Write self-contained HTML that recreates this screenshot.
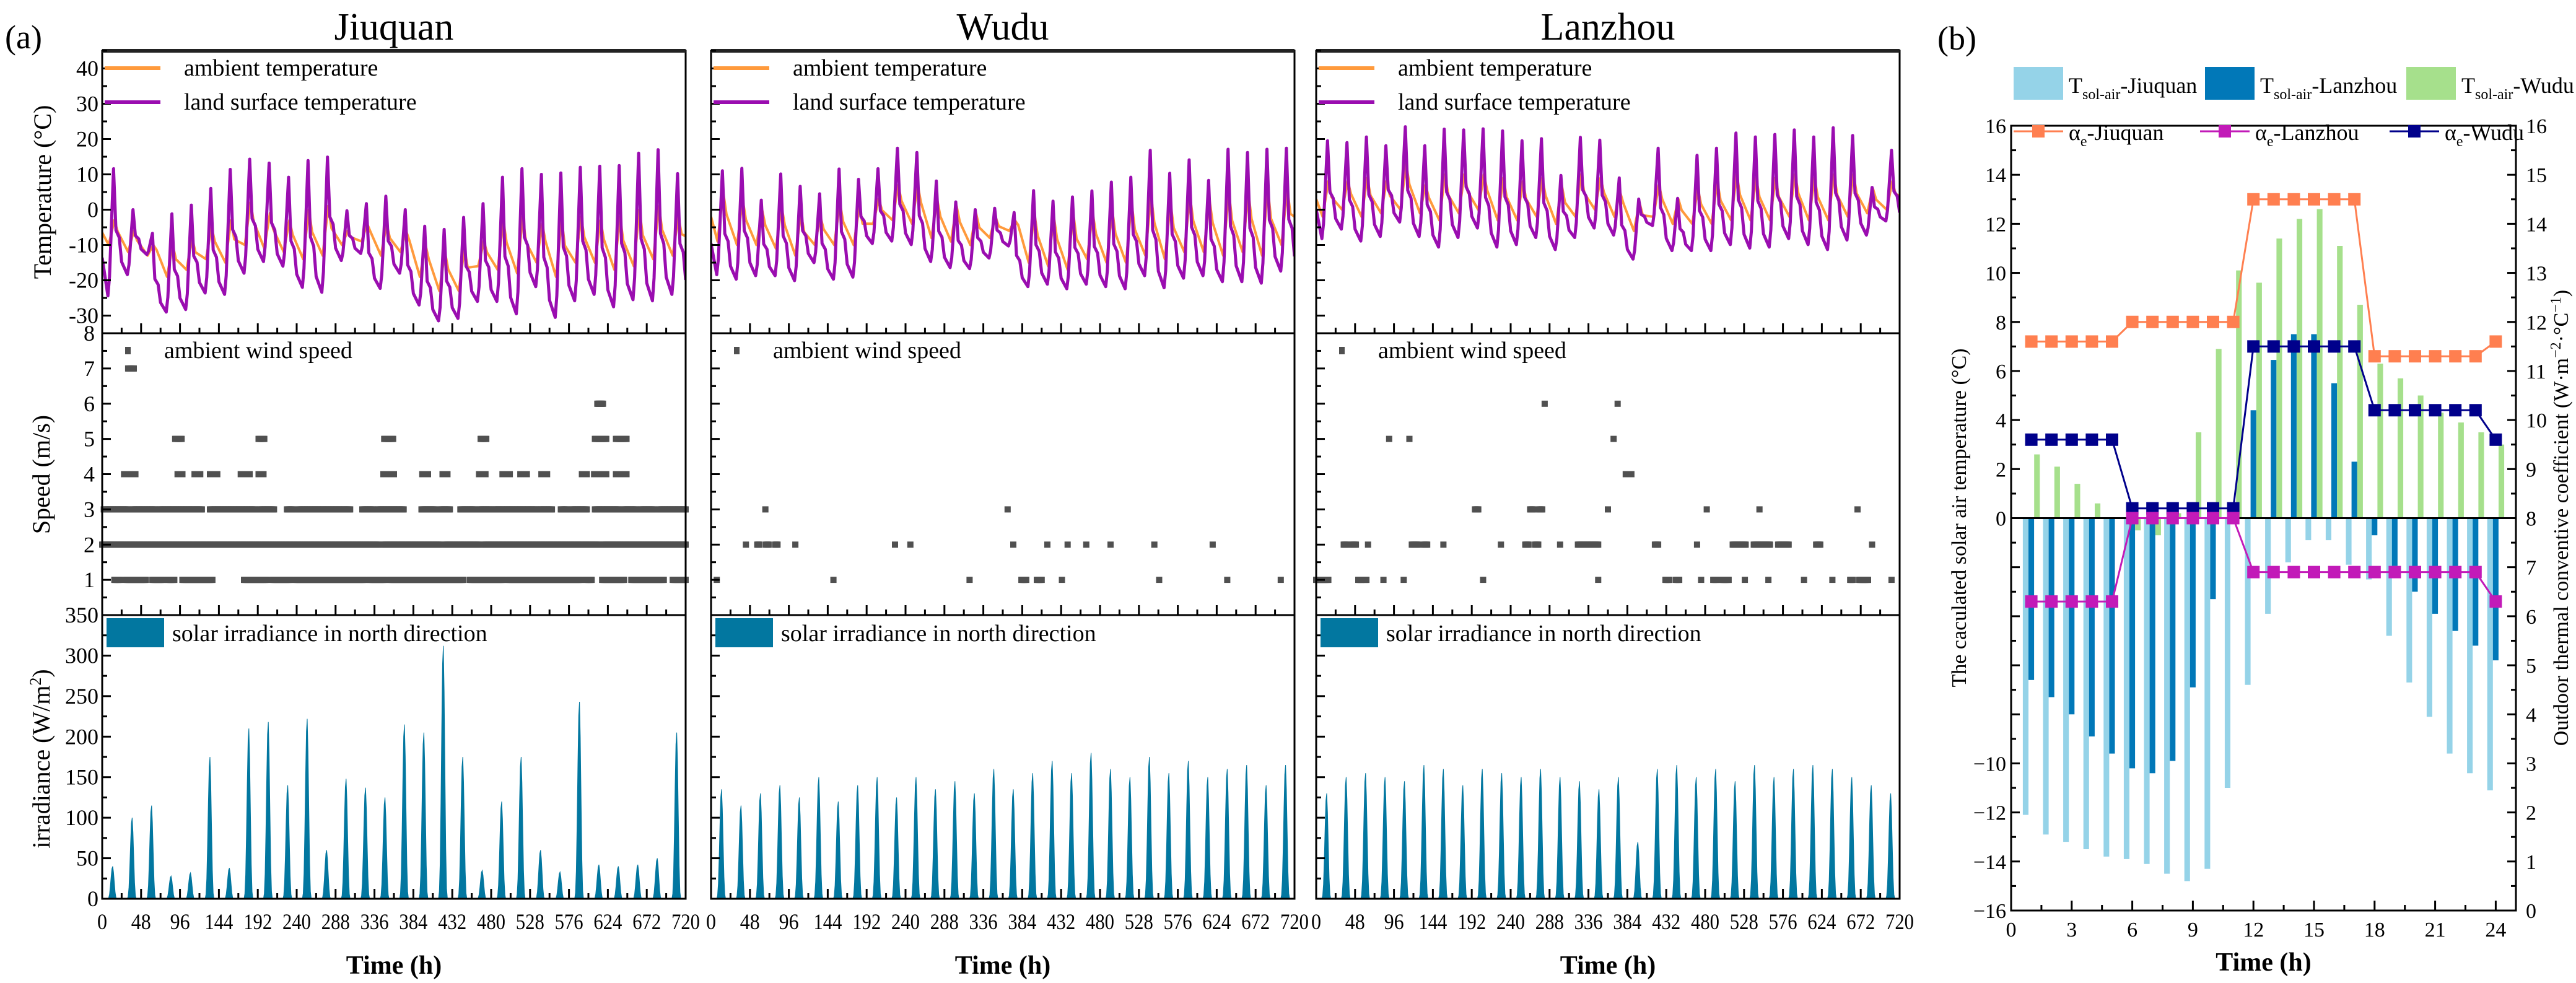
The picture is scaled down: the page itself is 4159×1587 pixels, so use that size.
<!DOCTYPE html>
<html><head><meta charset="utf-8"><style>
html,body{margin:0;padding:0;background:#fff}
svg{display:block;font-family:"Liberation Serif",serif}
</style></head><body>
<svg id="fig" width="4159" height="1587" viewBox="0 0 4159 1587" xmlns="http://www.w3.org/2000/svg">
<rect x="0" y="0" width="4159" height="1587" fill="#fff"/>
<text x="8" y="78" font-size="54">(a)</text>
<text x="3128" y="80" font-size="54">(b)</text>
<g id="ga"></g>
<g id="gb"></g>
</svg>
<script>
// ===== Panel (a) data =====
const cities = ["Jiuquan","Wudu","Lanzhou"];
const xTicksA = [0,48,96,144,192,240,288,336,384,432,480,528,576,624,672,720];
const tempTicks = [-30,-20,-10,0,10,20,30,40];
const speedTicks = [1,2,3,4,5,6,7,8];
const irrTicks = [0,50,100,150,200,250,300,350];
const lstPeakJ = [11.6,0,-6.7,-1.2,1.3,6,11.4,14.3,13.2,9.2,13.9,14.9,-0.3,1.7,3.8,0,-4.7,-5.6,-2.2,1.7,9.2,11.6,10,10.4,12,12.3,12.5,16,17,10.2];
const lstTroughJ = [-24.4,-18.4,-12.7,-29,-28.3,-23.6,-24,-18,-14.7,-16,-22,-23.4,-14.4,-12.4,-22.3,-18,-27,-31.5,-30.8,-26,-26,-29.5,-21.8,-30.5,-25.8,-24,-27.5,-25.5,-25.8,-24];
const ambPeakJ = [-3,-6,-10,-10,-8,-5,-3,2,-1,-3,0,1,-6,-4,-4,-6,-10,-12,-11,-9,-3,-2,-4,-3,-2,-3,-2,0,1,-2];
const ambTroughJ = [-10,-12,-13,-19,-17,-14,-15,-10,-11,-12,-14,-13,-10,-9,-13,-12,-19,-23,-23,-16,-17,-18,-15,-19,-15,-15,-17,-16,-14,-13];
const lstPeakW = [11,11.7,2.7,10.1,6.6,4.5,11.5,8.6,11.6,17.4,16.2,8.1,2.2,0,0.4,-0.8,5.4,2.4,3.6,5.3,7.8,9.2,16.8,10.3,14.1,8.3,17.1,16.2,17.1,17.4];
const lstTroughW = [-18.4,-19.7,-18.7,-18.7,-20.1,-15,-19.7,-19.1,-9.6,-8.9,-9.9,-14.7,-16.4,-16.7,-13.7,-10.3,-21.8,-21.1,-22.4,-21.1,-21.8,-22.4,-18.7,-22.1,-19.4,-18.7,-20.4,-20.4,-20.8,-17.4];
const ambPeakW = [5,3,0,1,-1,-2,2,1,3,7,7,3,1,-1,-2,-3,-1,-2,-1,-1,0,2,4,2,4,3,5,5,6,6];
const ambTroughW = [-9,-10,-10,-11,-13,-10,-10,-10,-4,-3,-4,-8,-9,-10,-8,-6,-15,-16,-17,-14,-15,-15,-13,-14,-12,-12,-13,-12,-13,-10];
const lstPeakL = [19.5,19,20.6,18.1,23.5,18.1,22.8,22.6,22.9,22.3,19.5,20.1,9.7,20.5,19.7,9,3,17.4,3.2,15.4,17.4,21.7,20.6,21.3,22.6,20.6,23.2,21,6.3,16.8];
const lstTroughL = [-8.2,-5.5,-8.9,-7.6,-3.5,-7.6,-10.6,-7.9,-5.2,-10.6,-9.9,-7.9,-11.3,-7.9,-5.2,-7.2,-14,-4.5,-11.6,-11.6,-11.6,-9.9,-10.9,-10.6,-8.2,-9.9,-11.3,-8.6,-7.2,-3.2];
const ambPeakL = [8,8,9,8,13,7,10,10,10,9,8,9,7,10,9,5,2,7,3,6,8,10,9,9,10,9,10,10,6,8];
const ambTroughL = [-2,0,-2,-1,0,-1,-3,-1,0,-3,-3,-2,-4,-2,0,-2,-6,-2,-4,-4,-4,-3,-3,-3,-2,-3,-3,-2,-1,0];
const windJ1 = [[15,22],[29,54],[62,75],[81,89],[99,136],[175,203],[210,232],[238,324],[330,349],[355,446],[454,495],[501,591],[597,604],[617,644],[653,693],[704,720]];
const windJ2 = [[0,341],[347,417],[423,465],[471,613],[618,720]];
const windJ3 = [[2,32],[37,66],[70,123],[133,189],[194,212],[228,236],[242,306],[321,335],[340,372],[394,411],[417,429],[442,460],[465,480],[483,536],[539,555],[566,574],[579,598],[608,638],[643,659],[664,681],[687,720]];
const windJ4 = [[27,41],[93,99],[114,121],[133,142],[171,182],[193,199],[347,360],[395,402],[420,426],[465,473],[494,503],[516,524],[542,549],[592,598],[607,622],[634,647]];
const windJ5 = [[90,98],[193,200],[348,359],[467,474],[608,622],[634,647]];
const windJ6 = [[611,618]];
const windJ7 = [[32,39]];
const windW1 = [[7,7],[151,151],[319,319],[383,389],[402,408],[433,433],[553,553],[637,637],[703,703]];
const windW2 = [[43,43],[57,60],[68,71],[79,82],[104,104],[227,227],[246,246],[373,373],[415,415],[440,440],[463,463],[493,493],[547,547],[619,619]];
const windW3 = [[67,67],[366,366]];
const windL1 = [[0,15],[52,56],[60,62],[83,83],[108,108],[206,206],[348,348],[431,436],[444,448],[475,475],[490,494],[500,509],[529,529],[558,558],[602,602],[637,637],[659,662],[670,681],[710,710]];
const windL2 = [[34,38],[44,49],[64,64],[118,126],[133,137],[157,157],[228,228],[258,262],[270,274],[301,301],[323,348],[418,422],[470,470],[514,530],[540,560],[570,583],[617,622],[686,686]];
const windL3 = [[196,200],[264,268],[275,279],[360,360],[482,482],[547,547],[668,668]];
const windL4 = [[382,389]];
const windL5 = [[90,90],[115,115],[367,367]];
const windL6 = [[282,282],[372,372]];
const irrJ = [40,100,115,28,32,175,38,210,218,140,222,60,148,137,125,215,205,312,175,35,120,175,60,33,243,42,40,42,50,205];
const irrW = [135,115,130,140,125,150,120,140,150,125,150,135,145,130,160,135,155,170,155,180,160,150,175,155,170,150,160,165,140,165];
const irrL = [130,150,155,150,145,165,160,140,160,155,150,160,150,145,135,150,70,160,165,150,160,145,165,150,160,165,160,150,140,130];
const irrShape = [0,0,0,0,0,0,0,0,0.03,0.14,0.38,0.68,0.93,1,0.82,0.5,0.2,0.04,0,0,0,0,0,0];

// ===== Panel (b) data =====
const hoursB = [1,2,3,4,5,6,7,8,9,10,11,12,13,14,15,16,17,18,19,20,21,22,23,24];
const xTicksB = [0,3,6,9,12,15,18,21,24];
const yTicksLeftB = [-16,-14,-12,-10,0,2,4,6,8,10,12,14,16];
const yTicksRightB = [0,1,2,3,4,5,6,7,8,9,10,11,12,13,14,15,16];
const tsolJ = [-12.1,-12.9,-13.2,-13.5,-13.8,-13.9,-14.1,-14.5,-14.8,-14.3,-11,-6.8,-3.9,-1.8,-0.9,-0.9,-1.9,-2.5,-4.8,-6.7,-8.1,-9.6,-10.4,-11.1];
const tsolL = [-6.6,-7.3,-8,-8.9,-9.6,-10.2,-10.4,-9.9,-6.9,-3.3,-0.1,4.4,6.45,7.5,7.5,5.5,2.3,-0.7,-1.95,-3,-3.9,-4.6,-5.2,-5.8];
const tsolW = [2.6,2.1,1.4,0.6,0,-0.5,-0.7,0.2,3.5,6.9,10.1,9.6,11.4,12.2,12.6,11.1,8.7,6.3,5.7,5,4.3,3.9,3.5,3];
const alphaJ = [11.6,11.6,11.6,11.6,11.6,12,12,12,12,12,12,14.5,14.5,14.5,14.5,14.5,14.5,11.3,11.3,11.3,11.3,11.3,11.3,11.6];
const alphaL = [6.3,6.3,6.3,6.3,6.3,8,8,8,8,8,8,6.9,6.9,6.9,6.9,6.9,6.9,6.9,6.9,6.9,6.9,6.9,6.9,6.3];
const alphaW = [9.6,9.6,9.6,9.6,9.6,8.2,8.2,8.2,8.2,8.2,8.2,11.5,11.5,11.5,11.5,11.5,11.5,10.2,10.2,10.2,10.2,10.2,10.2,9.6];

const NS="http://www.w3.org/2000/svg";
function mk(parent,tag,attrs,txt){const e=document.createElementNS(NS,tag);for(const k in attrs)e.setAttribute(k,attrs[k]);if(txt!==undefined)e.textContent=txt;parent.appendChild(e);return e;}

const ga=document.getElementById('ga');
const colX=[165,1148,2125], colW=942;
const TT=82, TB=538, SB=993, IB=1451;
const tempMin=-35,tempMax=45, spMax=8, irrMax=350;
const lstP=[lstPeakJ,lstPeakW,lstPeakL], lstT=[lstTroughJ,lstTroughW,lstTroughL];
const ambP=[ambPeakJ,ambPeakW,ambPeakL], ambT=[ambTroughJ,ambTroughW,ambTroughL];
const winds=[[windJ1,windJ2,windJ3,windJ4,windJ5,windJ6,windJ7],[windW1,windW2,windW3],[windL1,windL2,windL3,windL4,windL5,windL6]];
const irrs=[irrJ,irrW,irrL];

cities.forEach((city,ci)=>{
  const x0=colX[ci];
  const g=mk(ga,'g',{});
  
  
  const xs=h=>x0+h/720*colW;
  const yt=v=>TB-(v-tempMin)/(tempMax-tempMin)*(TB-TT);
  const ys=v=>SB-v/spMax*(SB-TB);
  const yi=v=>IB-v/irrMax*(IB-SB);
  const t=mk(g,'text',{x:x0+colW/2,y:64,'font-size':62,'text-anchor':'middle'},city);
  
  
  const cp=mk(g,'clipPath',{id:'cp'+ci});mk(cp,'rect',{x:x0,y:TT,width:colW,height:IB-TT});
  let pts=[];
  const aP=ambP[ci],aT=ambT[ci];
  pts.push([0,(aT[0]+aP[0])/2]);
  for(let d=0;d<30;d++){pts.push([24*d+8,aT[d]]);pts.push([24*d+15,aP[d]]);pts.push([24*d+19,aP[d]-(aP[d]-aT[d])*0.45]);}
  pts.push([720,(aT[29]+aP[29])/2]);
  const amb=mk(g,'polyline',{points:pts.map(p=>xs(p[0]).toFixed(1)+','+yt(p[1]).toFixed(1)).join(' '),fill:'none',stroke:'#FF9A3C','stroke-width':4,'clip-path':'url(#cp'+ci+')','stroke-linejoin':'round'});
  
  
  pts=[];const lP=lstP[ci],lT=lstT[ci];
  pts.push([0,lT[0]+ (lP[0]-lT[0])*0.3]);
  for(let d=0;d<30;d++){const nT=d<29?lT[d+1]:lT[d];pts.push([24*d+7,lT[d]]);pts.push([24*d+9,lT[d]+(lP[d]-lT[d])*0.15]);pts.push([24*d+14,lP[d]]);pts.push([24*d+17,nT+(lP[d]-nT)*0.42]);pts.push([24*d+21,nT+(lP[d]-nT)*0.35]);pts.push([24*d+24,nT+(lP[d]-nT)*0.12]);}
  const lst=mk(g,'polyline',{points:pts.map(p=>xs(Math.min(p[0],720)).toFixed(1)+','+yt(p[1]).toFixed(1)).join(' '),fill:'none',stroke:'#9A0DB0','stroke-width':5,'clip-path':'url(#cp'+ci+')','stroke-linejoin':'round'});
  
  
  const levels=winds[ci];
  levels.forEach((runs,li)=>{
    const lvl=li+1;
    runs.forEach(r=>{for(let h=r[0];h<=r[1];h++){
      const s=mk(g,'rect',{x:(xs(h)-5).toFixed(1),y:(ys(lvl)-5).toFixed(1),width:10,height:10,fill:'#505050'});
      
      
    }});
  });
  const iv=irrs[ci];let ip=[[0,0]];
  for(let d=0;d<30;d++)for(let h=0;h<24;h++)ip.push([24*d+h,iv[d]*irrShape[h]]);
  ip.push([720,0]);
  const ar=mk(g,'polygon',{points:ip.map(p=>xs(p[0]).toFixed(1)+','+yi(p[1]).toFixed(1)).join(' '),fill:'#0277A0',stroke:'#0277A0','stroke-width':1});
  
  
  [[TT,TB],[TB,SB],[SB,IB]].forEach(([a,b])=>{mk(g,'rect',{x:x0,y:a,width:colW,height:b-a,fill:'none',stroke:'#000','stroke-width':3});});
  mk(g,'line',{x1:x0,x2:x0+colW,y1:TT,y2:TT,stroke:'#222','stroke-width':6});
  for(let v=tempMin;v<=tempMax;v+=5){const y=yt(v);mk(g,'line',{x1:x0,x2:x0+(v%10===0?14:8),y1:y,y2:y,stroke:'#000','stroke-width':3});}
  for(let v=0;v<=8;v+=0.5){const y=ys(v);mk(g,'line',{x1:x0,x2:x0+(v%1===0?14:8),y1:y,y2:y,stroke:'#000','stroke-width':3});}
  for(let v=0;v<=350;v+=25){const y=yi(v);mk(g,'line',{x1:x0,x2:x0+(v%50===0?14:8),y1:y,y2:y,stroke:'#000','stroke-width':3});}
  for(let h=0;h<=720;h+=24){const x=xs(h);const L=(h%48===0)?16:9;
    mk(g,'line',{x1:x,x2:x,y1:IB,y2:IB-L,stroke:'#000','stroke-width':3});
    mk(g,'line',{x1:x,x2:x,y1:TB,y2:TB-L,stroke:'#000','stroke-width':3});
    mk(g,'line',{x1:x,x2:x,y1:SB,y2:SB-L,stroke:'#000','stroke-width':3});}
  xTicksA.forEach(v=>{const tl=mk(g,'text',{x:xs(v),y:1500,'font-size':36,'text-anchor':'middle',textLength:v>=100?46:(v>=10?32:16),lengthAdjust:'spacingAndGlyphs'},String(v));
    
    });
  const xt=mk(g,'text',{x:x0+colW/2,y:1572,'font-size':42,'font-weight':'bold','text-anchor':'middle'},'Time (h)');
  
  
  mk(g,'line',{x1:x0+4,x2:x0+94,y1:110,y2:110,stroke:'#FF9A3C','stroke-width':6});
  const lg1=mk(g,'text',{x:x0+132,y:122,'font-size':38},'ambient temperature');
  
  
  mk(g,'line',{x1:x0+4,x2:x0+94,y1:165,y2:165,stroke:'#9A0DB0','stroke-width':6});
  const lg2=mk(g,'text',{x:x0+132,y:177,'font-size':38},'land surface temperature');
  
  
  mk(g,'rect',{x:x0+37,y:560,width:9,height:12,fill:'#505050'});
  const lg3=mk(g,'text',{x:x0+100,y:578,'font-size':38},'ambient wind speed');
  
  
  mk(g,'rect',{x:x0+7,y:998,width:93,height:47,fill:'#0277A0'});
  const lg4=mk(g,'text',{x:x0+113,y:1035,'font-size':38},'solar irradiance in north direction');
  
  
  if(ci===0){
    tempTicks.forEach(v=>{const tl=mk(g,'text',{x:x0-6,y:yt(v)+12,'font-size':36,'text-anchor':'end'},String(v));});
    speedTicks.forEach(v=>{const tl=mk(g,'text',{x:x0-12,y:ys(v)+12,'font-size':36,'text-anchor':'end'},String(v));});
    irrTicks.forEach(v=>{const tl=mk(g,'text',{x:x0-6,y:yi(v)+12,'font-size':36,'text-anchor':'end'},String(v));});
    const a1=mk(g,'text',{x:0,y:0,'font-size':40,'text-anchor':'middle',transform:'translate(82,310) rotate(-90)'},'Temperature (°C)');
    
    const a2=mk(g,'text',{x:0,y:0,'font-size':40,'text-anchor':'middle',transform:'translate(80,766) rotate(-90)'},'Speed (m/s)');
    
    const a3=mk(g,'text',{x:0,y:0,'font-size':40,'text-anchor':'middle',transform:'translate(80,1225) rotate(-90)'});
    a3.innerHTML='irradiance (W/m<tspan dy="-14" font-size="26">2</tspan><tspan dy="14">)</tspan>';
    
  }
});

const gb=document.getElementById('gb');
const BL=3247,BR=4062,BT=203,BBt=1470;
const xb=h=>BL+h/25*(BR-BL);
const yb=v=>BBt-(v+16)/32*(BBt-BT);
const yr=v=>BBt-v/16*(BBt-BT);
const bw=0.28*(BR-BL)/25;
function bars(arr,off,col,name){arr.forEach((v,i)=>{const x=xb(hoursB[i]+off)-bw/2;const y0=yb(0),y1=yb(v);
  const r=mk(gb,'rect',{x:x.toFixed(1),y:Math.min(y0,y1).toFixed(1),width:bw.toFixed(1),height:Math.abs(y1-y0).toFixed(1),fill:col});
  
  });}
bars(tsolJ,-0.28,'#95D3E8','bar-tsol-jiuquan');
bars(tsolW,0.28,'#A6E08C','bar-tsol-wudu');
bars(tsolL,0,'#0178B8','bar-tsol-lanzhou');
mk(gb,'line',{x1:BL,x2:BR,y1:yb(0),y2:yb(0),stroke:'#000','stroke-width':3});
function aline(arr,col,name){const p=arr.map((v,i)=>xb(hoursB[i]).toFixed(1)+','+yr(v).toFixed(1)).join(' ');
  const l=mk(gb,'polyline',{points:p,fill:'none',stroke:col,'stroke-width':3});
  
  
  arr.forEach((v,i)=>{const m=mk(gb,'rect',{x:xb(hoursB[i])-10,y:yr(v)-10,width:20,height:20,fill:col});
    
    });}
aline(alphaJ,'#FF7F50','alpha-jiuquan');
aline(alphaW,'#00008B','alpha-wudu');
aline(alphaL,'#C21AB8','alpha-lanzhou');
mk(gb,'rect',{x:BL,y:BT,width:BR-BL,height:BBt-BT,fill:'none',stroke:'#000','stroke-width':3});
for(let v=-16;v<=16;v+=1){const y=yb(v);const L=v%2===0?14:8;mk(gb,'line',{x1:BL,x2:BL+L,y1:y,y2:y,stroke:'#000','stroke-width':3});}
for(let v=0;v<=16;v+=0.5){const y=yr(v);const L=v%1===0?14:8;mk(gb,'line',{x1:BR,x2:BR-L,y1:y,y2:y,stroke:'#000','stroke-width':3});}
for(let h=0;h<=25;h+=1.5){const x=xb(h);const L=(h%3===0)?16:9;mk(gb,'line',{x1:x,x2:x,y1:BBt,y2:BBt-L,stroke:'#000','stroke-width':3});}
yTicksLeftB.forEach(v=>{const t=mk(gb,'text',{x:BL-8,y:yb(v)+12,'font-size':34,'text-anchor':'end'},v<0?'\u2212'+(-v):String(v));});
yTicksRightB.forEach(v=>{const t=mk(gb,'text',{x:BR+16,y:yr(v)+12,'font-size':34,'text-anchor':'start'},String(v));});
xTicksB.forEach(v=>{const t=mk(gb,'text',{x:xb(v),y:1512,'font-size':34,'text-anchor':'middle'},String(v));});
const tb=mk(gb,'text',{x:(BL+BR)/2,y:1567,'font-size':42,'font-weight':'bold','text-anchor':'middle'},'Time (h)');

const ylb=mk(gb,'text',{x:0,y:0,'font-size':34,'text-anchor':'middle',transform:'translate(3174,836) rotate(-90)'},'The caculated solar air temperature (°C)');

const yrb=mk(gb,'text',{x:0,y:0,'font-size':34,'text-anchor':'middle',transform:'translate(4146,836) rotate(-90)'});
yrb.innerHTML='Outdoor thermal conventive coefficient (W·m<tspan dy="-12" font-size="24">−2</tspan><tspan dy="12">·°C</tspan><tspan dy="-12" font-size="24">−1</tspan><tspan dy="12">)</tspan>';

const legB=[[3251,'#95D3E8','-Jiuquan'],[3560,'#0178B8','-Lanzhou'],[3885,'#A6E08C','-Wudu']];
legB.forEach(([x,c,s])=>{mk(gb,'rect',{x:x,y:108,width:80,height:53,fill:c});
  const t=mk(gb,'text',{x:x+89,y:150,'font-size':36});
  t.innerHTML='T<tspan dy="10" font-size="24">sol-air</tspan><tspan dy="-10">'+s+'</tspan>';
  });
const legA=[[3251,'#FF7F50','-Jiuquan'],[3552,'#C21AB8','-Lanzhou'],[3858,'#00008B','-Wudu']];
legA.forEach(([x,c,s])=>{mk(gb,'line',{x1:x,x2:x+80,y1:212,y2:212,stroke:c,'stroke-width':3});mk(gb,'rect',{x:x+30,y:202,width:20,height:20,fill:c});
  const t=mk(gb,'text',{x:x+89,y:226,'font-size':36});
  t.innerHTML='α<tspan dy="10" font-size="24">e</tspan><tspan dy="-10">'+s+'</tspan>';
  });
</script>
</body></html>
